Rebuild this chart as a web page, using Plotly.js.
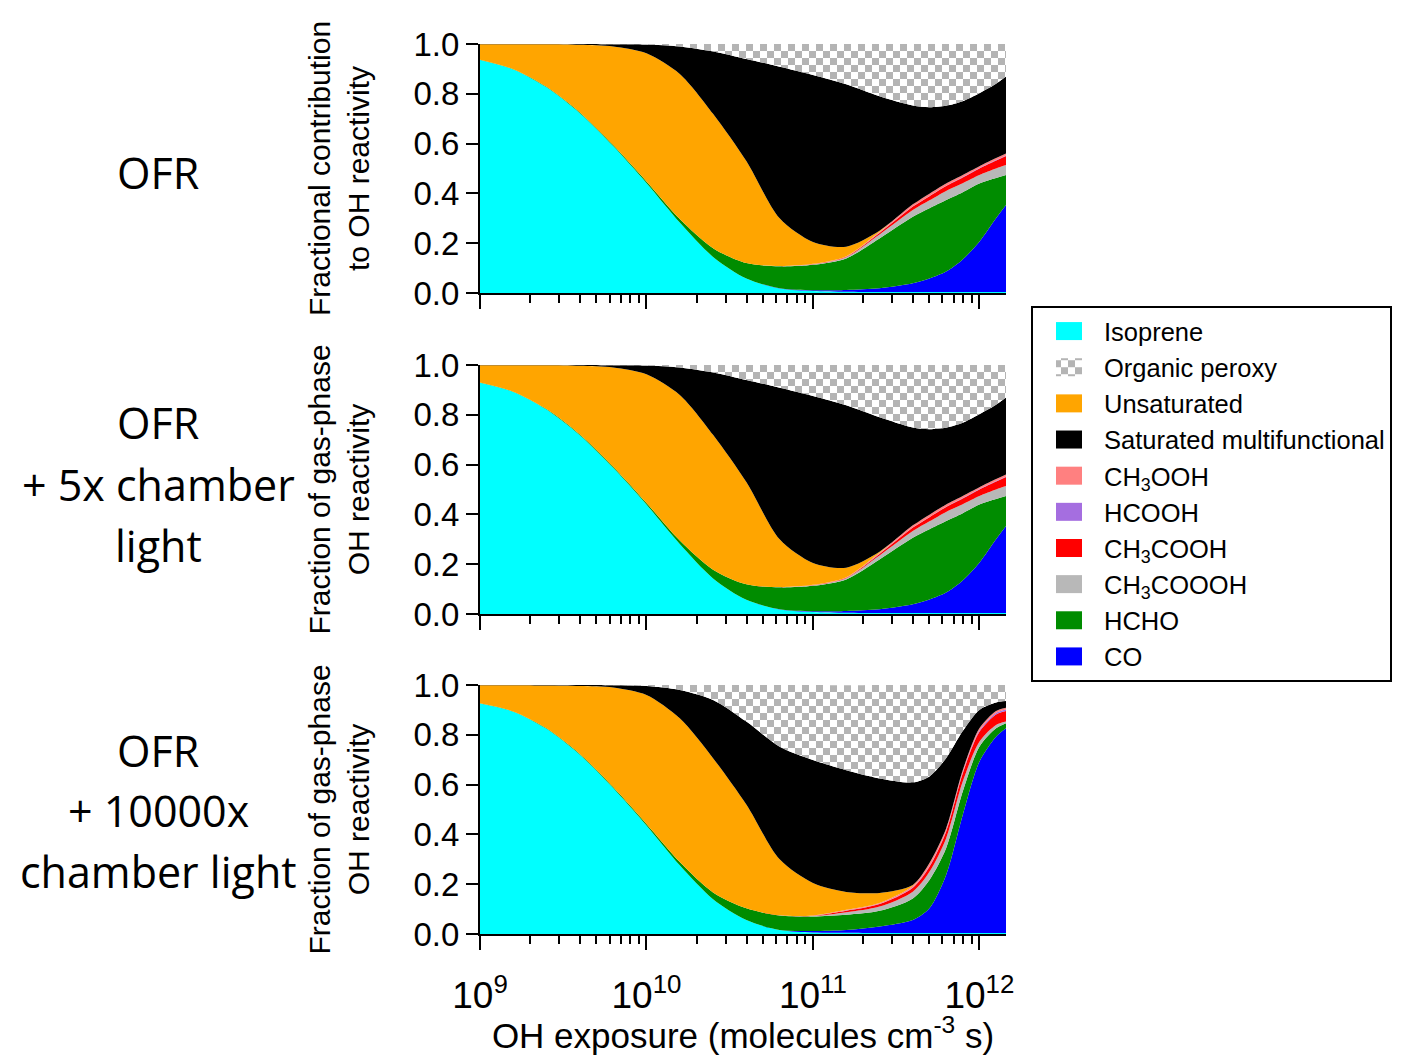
<!DOCTYPE html>
<html>
<head>
<meta charset="utf-8">
<script src="https://cdn.plot.ly/plotly-3.0.1.min.js"></script>
<style>html,body{margin:0;padding:0;background:#fff;}#chart{width:1412px;height:1055px;}</style>
</head>
<body>
<div id="chart"></div>
<script>
// OH exposure grid (molecules cm^-3 s)
const exposure = [1e9, 1.585e9, 2.512e9, 3.981e9, 6.310e9, 1e10, 1.585e10, 2.512e10, 3.981e10, 6.310e10,
                  1e11, 1.585e11, 2.512e11, 3.981e11, 5.012e11, 6.310e11, 7.943e11, 1e12, 1.259e12, 1.445e12];

// Panel 1: OFR
const iso1    = [0.936,0.898,0.826,0.722,0.590,0.442,0.283,0.145,0.058,0.018,0.008,0.005,0.004,0.004,0.004,0.004,0.004,0.004,0.004,0.004];
const co1     = [0,0,0,0,0,0,0,0,0,0.001,0.003,0.007,0.015,0.035,0.054,0.082,0.131,0.202,0.296,0.349];
const hcho1   = [0.001,0.001,0.002,0.003,0.004,0.006,0.014,0.035,0.062,0.088,0.102,0.127,0.200,0.267,0.282,0.287,0.270,0.234,0.162,0.121];
const paa1    = [0,0,0,0,0,0,0,0,0,0.001,0.002,0.005,0.016,0.027,0.032,0.037,0.036,0.034,0.038,0.040];
const aa1     = [0,0,0,0,0,0,0,0,0,0,0.001,0.002,0.006,0.014,0.017,0.020,0.023,0.026,0.032,0.036];
const fa1     = [0,0,0,0,0,0,0,0,0,0,0,0,0.001,0.001,0.001,0.001,0.002,0.002,0.002,0.002];
const mhp1    = [0,0,0,0,0,0,0,0,0,0,0.001,0.002,0.004,0.008,0.009,0.009,0.008,0.007,0.008,0.008];
const unsat1  = [0.062,0.100,0.171,0.272,0.396,0.515,0.583,0.540,0.410,0.192,0.088,0.038,0.004,0,0,0,0,0,0,0];
const sat1    = [0.001,0.001,0.001,0.003,0.009,0.035,0.110,0.250,0.410,0.609,0.671,0.652,0.540,0.397,0.347,0.312,0.296,0.293,0.298,0.309];
const peroxy1 = [0,0,0,0,0.001,0.002,0.010,0.030,0.060,0.091,0.124,0.162,0.210,0.247,0.254,0.248,0.230,0.198,0.160,0.131];

// Panel 2: OFR + 5x chamber light
const iso2    = [0.929,0.892,0.821,0.718,0.587,0.440,0.281,0.143,0.057,0.018,0.008,0.005,0.004,0.004,0.004,0.004,0.004,0.004,0.004,0.004];
const co2     = [0,0,0,0,0,0,0,0,0,0.001,0.003,0.007,0.015,0.035,0.054,0.082,0.131,0.202,0.296,0.349];
const hcho2   = [0.001,0.001,0.002,0.003,0.004,0.006,0.014,0.035,0.062,0.088,0.102,0.127,0.200,0.267,0.282,0.287,0.270,0.234,0.162,0.121];
const paa2    = [0,0,0,0,0,0,0,0,0,0.001,0.002,0.005,0.016,0.027,0.032,0.037,0.036,0.034,0.038,0.040];
const aa2     = [0,0,0,0,0,0,0,0,0,0,0.001,0.002,0.006,0.014,0.017,0.020,0.023,0.026,0.032,0.036];
const fa2     = [0,0,0,0,0,0,0,0,0,0,0,0,0.001,0.001,0.001,0.001,0.002,0.002,0.002,0.002];
const mhp2    = [0,0,0,0,0,0,0,0,0,0,0.001,0.002,0.004,0.008,0.009,0.009,0.008,0.007,0.008,0.008];
const unsat2  = [0.069,0.106,0.176,0.276,0.399,0.517,0.585,0.542,0.411,0.192,0.088,0.038,0.004,0,0,0,0,0,0,0];
const sat2    = [0.001,0.001,0.001,0.003,0.009,0.035,0.110,0.250,0.410,0.609,0.671,0.652,0.540,0.393,0.343,0.308,0.294,0.293,0.298,0.309];
const peroxy2 = [0,0,0,0,0.001,0.002,0.010,0.030,0.060,0.091,0.124,0.162,0.210,0.251,0.258,0.252,0.232,0.198,0.160,0.131];

// Panel 3: OFR + 10000x chamber light
const iso3    = [0.926,0.893,0.824,0.720,0.586,0.436,0.276,0.140,0.056,0.016,0.006,0.005,0.004,0.004,0.004,0.004,0.004,0.004,0.004,0.004];
const co3     = [0,0,0,0,0,0,0,0,0,0,0.006,0.011,0.026,0.052,0.099,0.233,0.474,0.688,0.788,0.822];
const hcho3   = [0.001,0.001,0.002,0.003,0.004,0.006,0.013,0.027,0.047,0.058,0.058,0.061,0.063,0.087,0.114,0.107,0.094,0.060,0.034,0.020];
const paa3    = [0,0,0,0,0,0,0,0,0,0.001,0.002,0.010,0.017,0.027,0.033,0.040,0.040,0.020,0.013,0.007];
const aa3     = [0,0,0,0,0,0,0,0,0,0,0.001,0.006,0.010,0.016,0.020,0.027,0.033,0.040,0.043,0.043];
const fa3     = [0,0,0,0,0,0,0,0,0,0,0,0.001,0.001,0.002,0.003,0.003,0.004,0.005,0.006,0.006];
const mhp3    = [0,0,0,0,0,0,0,0,0,0,0.001,0.003,0.004,0.006,0.011,0.010,0.009,0.009,0.008,0.007];
const unsat3  = [0.072,0.105,0.172,0.273,0.400,0.518,0.577,0.539,0.417,0.225,0.131,0.072,0.040,0.003,0.001,0,0,0,0,0];
const sat3    = [0.001,0.001,0.002,0.004,0.009,0.036,0.114,0.234,0.333,0.452,0.494,0.489,0.460,0.412,0.348,0.282,0.157,0.074,0.034,0.027];
const peroxy3 = [0,0,0,0,0.001,0.004,0.020,0.060,0.147,0.248,0.301,0.341,0.375,0.391,0.367,0.294,0.185,0.100,0.070,0.064];

const seriesNames = ['Isoprene','CO','HCHO','CH<sub>3</sub>COOOH','CH<sub>3</sub>COOH','HCOOH','CH<sub>3</sub>OOH','Unsaturated','Saturated multifunctional','Organic peroxy'];
const seriesColors = ['#00ffff','#0000ff','#008c00','#b8b8b8','#ff0000','#a56ee0','#ff8080','#ffa500','#000000','#b4b4b4'];
const legendRanks = [1,10,9,8,7,6,5,3,4,2];

const panelLabels = [['OFR'], ['OFR','+ 5x chamber','light'], ['OFR','+ 10000x','chamber light']];
const yTitles = ['Fractional contribution<br>to OH reactivity','Fraction of gas-phase<br>OH reactivity','Fraction of gas-phase<br>OH reactivity'];
const xTickVals = [1e9,1e10,1e11,1e12];
const xTickText = ['10<sup>9</sup>','10<sup>10</sup>','10<sup>11</sup>','10<sup>12</sup>'];
const yTickVals = [0,0.2,0.4,0.6,0.8,1.0];
const yTickText = ['0.0','0.2','0.4','0.6','0.8','1.0'];

const panels = [
  [iso1,co1,hcho1,paa1,aa1,fa1,mhp1,unsat1,sat1,peroxy1],
  [iso2,co2,hcho2,paa2,aa2,fa2,mhp2,unsat2,sat2,peroxy2],
  [iso3,co3,hcho3,paa3,aa3,fa3,mhp3,unsat3,sat3,peroxy3]
];

const W = 1412, H = 1055;
const xDom = [480/W, 1006/W];
const yDoms = [[1-293/H, 1-44/H],[1-614/H, 1-365/H],[1-934/H, 1-685/H]];
const FONT = 'Liberation Sans, Arial, sans-serif';

const traces = [];
panels.forEach((p, pi) => {
  const ax = pi === 0 ? '' : String(pi+1);
  p.forEach((vals, si) => {
    const t = {
      type:'scatter', mode:'lines', x: exposure, y: vals,
      xaxis:'x'+ax, yaxis:'y'+ax, stackgroup:'g'+pi,
      name: seriesNames[si], legendrank: legendRanks[si],
      line:{width:0, shape:'spline', smoothing:0.8, color:seriesColors[si]},
      fillcolor: seriesColors[si],
      showlegend: pi === 0, hoverinfo:'skip'
    };
    if (si === 9) {
      t.fillpattern = {shape:'+', fgcolor:'#b4b4b4', bgcolor:'#ffffff', size:14, solidity:0.3};
    }
    traces.push(t);
  });
});

// minor tick positions on the log axis (2..9 in each decade)
const minorVals = [];
for (let d = 9; d <= 12; d++) for (let m = 2; m <= 9; m++) minorVals.push(m*Math.pow(10,d));

const layout = {
  width: W, height: H,
  margin:{l:0,r:0,t:0,b:0, autoexpand:false},
  paper_bgcolor:'#ffffff', plot_bgcolor:'#ffffff',
  font:{family:FONT, color:'#000'},
  showlegend:true,
  legend:{
    x:1031/W, y:1-306/H, xanchor:'left', yanchor:'top',
    bgcolor:'#ffffff', bordercolor:'#000', borderwidth:2,
    font:{family:FONT, size:25.5, color:'#000'},
    traceorder:'normal', itemwidth:61
  },
  annotations:[]
};

[0,1,2].forEach(pi => {
  const ax = pi === 0 ? '' : String(pi+1);
  const isBottom = pi === 2;
  layout['xaxis'+ax] = {
    domain:xDom, type:'log', range:[9, Math.log10(1.445e12)], anchor:'y'+ax,
    showgrid:false, zeroline:false, showline:true, linecolor:'#000', linewidth:2,
    ticks:'outside', ticklen:14, tickwidth:2, tickcolor:'#000',
    tickmode:'array', tickvals:xTickVals, ticktext:xTickText,
    showticklabels:isBottom, tickfont:{family:FONT, size:37, color:'#000'},
    ticklabelstandoff: 14,
    minor:{tickmode:'array', tickvals:minorVals, ticks:'outside', ticklen:8, tickwidth:2, tickcolor:'#000', showgrid:false},
    title: isBottom ? {text:'OH exposure (molecules cm<sup>-3</sup> s)', font:{family:FONT, size:35, color:'#000'}, standoff:2} : {text:''}
  };
  layout['yaxis'+ax] = {
    domain:yDoms[pi], range:[0,1], anchor:'x'+ax,
    showgrid:false, zeroline:false, showline:true, linecolor:'#000', linewidth:2,
    ticks:'outside', ticklen:12, tickwidth:2, tickcolor:'#000',
    tickmode:'array', tickvals:yTickVals, ticktext:yTickText,
    tickfont:{family:FONT, size:33, color:'#000'},
    title:{text:yTitles[pi], font:{family:FONT, size:30, color:'#000'}, standoff:35}
  };
  const centers = [[172],[422,484,545],[750,810,871]][pi];
  panelLabels[pi].forEach((txt, li) => {
    layout.annotations.push({
      text:txt, xref:'paper', yref:'paper', x:158/W, y:1-centers[li]/H,
      xanchor:'center', yanchor:'middle', showarrow:false,
      font:{family:'Open Sans, Noto Sans, sans-serif', size:43, color:'#000'}
    });
  });
});

function decorate(gd){
  const NS = 'http://www.w3.org/2000/svg';
  gd.querySelectorAll('pattern').forEach(p => {
    const s = 14, h = 7;
    p.setAttribute('width', s); p.setAttribute('height', s);
    while (p.firstChild) p.removeChild(p.firstChild);
    const mk = (x,y,w,hh,c) => {
      const r = document.createElementNS(NS,'rect');
      r.setAttribute('x',x); r.setAttribute('y',y);
      r.setAttribute('width',w); r.setAttribute('height',hh);
      r.setAttribute('fill',c); p.appendChild(r);
    };
    mk(0,0,s,s,'#ffffff'); mk(0,0,h,h,'#b4b4b4'); mk(h,h,h,h,'#b4b4b4');
  });
  gd.querySelectorAll('.legendfill path').forEach(el => el.setAttribute('d','M23,-9h26v18h-26z'));
}

Plotly.newPlot('chart', traces, layout, {staticPlot:true, displayModeBar:false}).then(decorate);
</script>
</body>
</html>
